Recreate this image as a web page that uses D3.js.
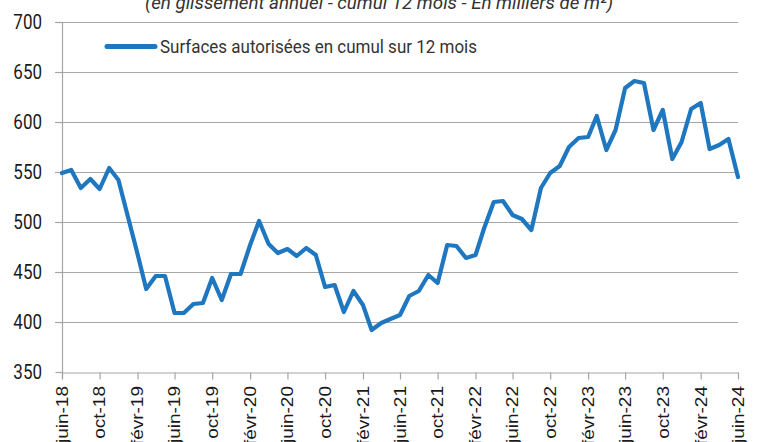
<!DOCTYPE html>
<html>
<head>
<meta charset="utf-8">
<script src="https://cdn.jsdelivr.net/npm/d3@7"></script>
<style>
  body { margin: 0; background: #fff; }
  svg { display: block; }
  .ylab { font-family: Roboto, sans-serif; font-size: 20px; fill: #1a1a1a; }
  .xlab { font-family: "Liberation Sans", Arial, sans-serif; font-size: 19px; fill: #1a1a1a; }
  .legend-text { font-family: Roboto, sans-serif; font-size: 19px; fill: #333; }
  .subtitle { font-family: Roboto, sans-serif; font-size: 19px; font-style: italic; fill: #333; }
</style>
</head>
<body>
<div id="chart"></div>
<script>
// monthly values, juin-18 .. juin-24 (milliers de m2, cumul 12 mois)
let startMonth = new Date(2018, 5, 1);
let surfaces = [
  549, 552, 534, 543, 533, 554, 542, 505, 468, 433, 446, 446,
  409, 409, 418, 419, 444, 422, 448, 448, 477, 501, 478, 469,
  473, 466, 474, 467, 435, 437, 410, 431, 417, 392, 399, 403,
  407, 426, 431, 447, 439, 477, 476, 464, 467, 494, 520, 521,
  507, 503, 492, 534, 549, 556, 575, 584, 585, 606, 572, 592,
  634, 641, 639, 592, 612, 563, 580, 613, 619, 573, 577, 583,
  545
];
let tickLabels = [
  'juin-18', 'oct-18', 'févr-19', 'juin-19', 'oct-19', 'févr-20', 'juin-20',
  'oct-20', 'févr-21', 'juin-21', 'oct-21', 'févr-22', 'juin-22', 'oct-22',
  'févr-23', 'juin-23', 'oct-23', 'févr-24', 'juin-24'
];
let yTicks = [350, 400, 450, 500, 550, 600, 650, 700];
let seriesName = 'Surfaces autorisées en cumul sur 12 mois';
let subtitle = '(en glissement annuel - cumul 12 mois - En milliers de m²)';

let width = 758, height = 442;
let margin = ({top: 22, right: 20, bottom: 70, left: 62});
let squeeze = 0.85; // text in the source is slightly compressed horizontally

let dates = surfaces.map((d, i) => d3.timeMonth.offset(startMonth, i));
let tickDates = tickLabels.map((d, i) => d3.timeMonth.offset(startMonth, i * 4));

let svg = d3.select('#chart').append('svg')
    .attr('width', width)
    .attr('height', height);

let x = d3.scaleTime()
    .domain([startMonth, dates[dates.length - 1]])
    .range([margin.left, width - margin.right]);

let y = d3.scaleLinear()
    .domain([350, 700])
    .range([height - margin.bottom, margin.top]);

// subtitle (cut at the top in the source)
svg.append('text')
    .attr('class', 'subtitle')
    .attr('x', 145)
    .attr('y', 8.5)
    .attr('textLength', 468)
    .attr('lengthAdjust', 'spacingAndGlyphs')
    .text(subtitle);

// gridlines
svg.append('g')
    .selectAll('line')
    .data(yTicks.filter(d => d > 350))
    .enter().append('line')
    .attr('x1', margin.left - 7)
    .attr('x2', width - margin.right)
    .attr('y1', d => Math.round(y(d)) + 0.5)
    .attr('y2', d => Math.round(y(d)) + 0.5)
    .attr('stroke', '#a6a6a6')
    .attr('stroke-width', 1.2);

// y axis
let yAxis = svg.append('g')
    .attr('transform', `translate(${margin.left + 0.5}, 0)`)
    .call(d3.axisLeft(y).tickValues(yTicks).tickSize(7).tickFormat(''));
yAxis.select('.domain').attr('stroke', '#a6a6a6').attr('stroke-width', 1.2)
    .attr('d', `M0,${y(700)}V${y(350) + 7}`);
yAxis.selectAll('.tick line').attr('stroke', '#a6a6a6').attr('stroke-width', 1.2);

svg.append('g')
    .selectAll('g')
    .data(yTicks)
    .enter().append('g')
    .attr('transform', d => `translate(42, ${y(d)}) scale(${squeeze}, 1)`)
    .append('text')
    .attr('class', 'ylab')
    .attr('text-anchor', 'end')
    .attr('dy', '0.36em')
    .text(d => d);

// x axis
let xAxis = svg.append('g')
    .attr('transform', `translate(0, ${Math.round(y(350)) + 0.5})`)
    .call(d3.axisBottom(x).tickValues(tickDates).tickSize(7).tickSizeOuter(0).tickFormat(''));
xAxis.select('.domain').attr('stroke', '#a6a6a6').attr('stroke-width', 1.2);
xAxis.selectAll('.tick line').attr('stroke', '#a6a6a6').attr('stroke-width', 1.2);

svg.append('g')
    .selectAll('g')
    .data(tickDates)
    .enter().append('g')
    .attr('transform', d => `translate(${x(d)}, 386) scale(${squeeze}, 1)`)
    .append('text')
    .attr('class', 'xlab')
    .attr('transform', 'rotate(-90)')
    .attr('text-anchor', 'end')
    .attr('dy', '0.36em')
    .text((d, i) => tickLabels[i]);

// series line
let line = d3.line()
    .x((d, i) => x(dates[i]))
    .y(d => y(d));

svg.append('path')
    .datum(surfaces)
    .attr('fill', 'none')
    .attr('stroke', '#1f77c0')
    .attr('stroke-width', 4.2)
    .attr('stroke-linejoin', 'round')
    .attr('stroke-linecap', 'round')
    .attr('d', line);

// legend
svg.append('line')
    .attr('x1', 107).attr('x2', 155)
    .attr('y1', 46.5).attr('y2', 46.5)
    .attr('stroke', '#1f77c0')
    .attr('stroke-width', 5)
    .attr('stroke-linecap', 'round');

svg.append('text')
    .attr('class', 'legend-text')
    .attr('x', 160)
    .attr('y', 53.3)
    .attr('textLength', 317)
    .attr('lengthAdjust', 'spacingAndGlyphs')
    .text(seriesName);
</script>
</body>
</html>
